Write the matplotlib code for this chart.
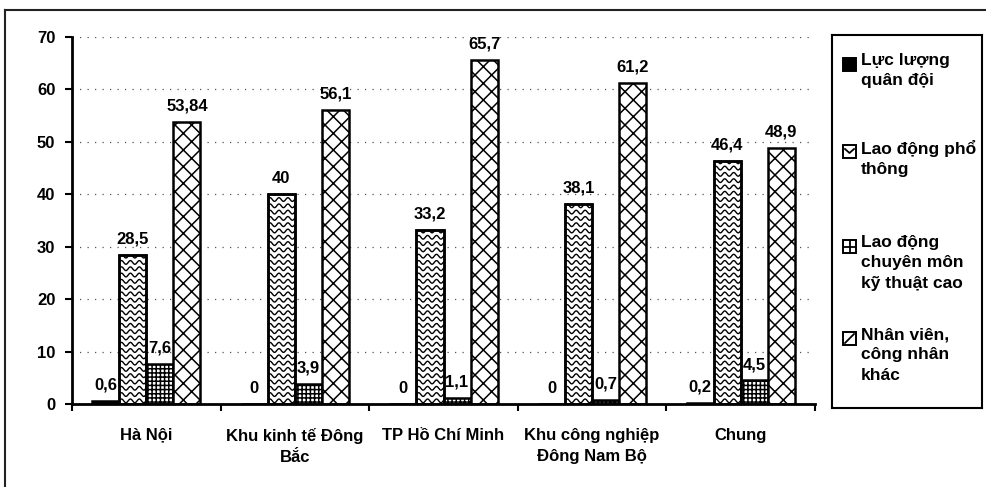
import numpy as np
import matplotlib
matplotlib.use("Agg")
import matplotlib.pyplot as plt
from matplotlib.patches import Rectangle
from matplotlib.lines import Line2D

categories = ["Hà Nội", "Khu kinh tế Đông\nBắc", "TP Hồ Chí Minh",
              "Khu công nghiệp\nĐông Nam Bộ", "Chung"]
series_names = ["Lực lượng\nquân đội", "Lao động phổ\nthông",
                "Lao động\nchuyên môn\nkỹ thuật cao", "Nhân viên,\ncông nhân\nkhác"]
quan_doi = [0.6, 0, 0, 0, 0.2]
pho_thong = [28.5, 40, 33.2, 38.1, 46.4]
chuyen_mon = [7.6, 3.9, 1.1, 0.7, 4.5]
nhan_vien = [53.84, 56.1, 65.7, 61.2, 48.9]
y_ticks = [0, 10, 20, 30, 40, 50, 60, 70]

plt.rcParams["font.family"] = ["Liberation Sans Narrow", "Liberation Sans", "DejaVu Sans"]
plt.rcParams["font.weight"] = "bold"
plt.rcParams["font.size"] = 12
plt.rcParams["hatch.linewidth"] = 1.1

W, H = 986, 487
fig = plt.figure(figsize=(W / 100, H / 100), dpi=100)
ax = fig.add_axes([72 / W, 1 - 404 / H, (815 - 72) / W, (404 - 37) / H])


def add_waves(ax, bar, period=0.06, amp=0.35, gap=1.2):
    # wavy texture clipped to the bar
    x0, w, h = bar.get_x(), bar.get_width(), bar.get_height()
    xs = np.linspace(x0, x0 + w, 80)
    for yb in np.arange(gap / 2, h + gap, gap):
        ys = yb + amp * np.sin(2 * np.pi * (xs - x0) / period)
        line, = ax.plot(xs, ys, color="black", lw=1.0, zorder=2.5)
        line.set_clip_path(bar)


x = np.arange(len(categories))
bw = 0.182
series = [quan_doi, pho_thong, chuyen_mon, nhan_vien]
fills = ["black", "white", "white", "white"]
hatches = [None, None, "++++", "xx"]

for i, vals in enumerate(series):
    xi = x + (i - 1.5) * bw
    bars = ax.bar(xi, vals, bw, color=fills[i], edgecolor="black",
                  linewidth=1.8, hatch=hatches[i], zorder=2)
    if i == 1:
        for b in bars:
            add_waves(ax, b)
        ax.bar(xi, vals, bw, fill=False, edgecolor="black", linewidth=1.8, zorder=3)
    for xv, v in zip(xi, vals):
        ax.annotate(f"{v:g}".replace(".", ","), (xv, v), xytext=(0, 6),
                    textcoords="offset points", ha="center", va="bottom",
                    fontweight="bold", zorder=4)

ax.set_xlim(-0.5, len(categories) - 0.5)
ax.set_ylim(0, 70)
ax.set_yticks(y_ticks)
ax.set_xticks(np.arange(-0.5, len(categories), 1.0))
ax.set_xticklabels([])
ax.set_xticks(x, minor=True)
ax.set_xticklabels(categories, minor=True, linespacing=1.55)
ax.tick_params(axis="x", which="minor", length=0, pad=17)
ax.tick_params(axis="x", which="major", length=5, width=1.5, direction="out")
ax.tick_params(axis="y", length=5, width=1.5, pad=7)

ax.set_axisbelow(True)
ax.yaxis.grid(True, color="#555555", linestyle=(0, (1, 5)), linewidth=0.9)
for s in ["top", "right"]:
    ax.spines[s].set_visible(False)
ax.spines["left"].set_linewidth(2)
ax.spines["bottom"].set_linewidth(2)

# legend box
lax = fig.add_axes([832 / W, 1 - 408 / H, 150 / W, 373 / H])
lax.set_xlim(0, 150)
lax.set_ylim(373, 0)
lax.set_xticks([])
lax.set_yticks([])
for s in lax.spines.values():
    s.set_linewidth(1.5)
entry_tops = [18, 105, 200, 292]
for i, name in enumerate(series_names):
    y0 = entry_tops[i]
    kx, ky, ks = 11, y0 + 5, 13
    lax.add_patch(Rectangle((kx, ky), ks, ks, facecolor=fills[i], edgecolor="black",
                            linewidth=1.4))
    if i == 1:
        lax.plot([kx + 2, kx + ks / 2, kx + ks - 2], [ky + 4, ky + 8, ky + 4],
                 color="black", lw=1.3)
    elif i == 2:
        lax.plot([kx + ks / 2] * 2, [ky, ky + ks], color="black", lw=1.3)
        lax.plot([kx, kx + ks], [ky + ks / 2] * 2, color="black", lw=1.3)
    elif i == 3:
        lax.plot([kx + 2, kx + ks - 2], [ky + ks - 2, ky + 2], color="black", lw=1.3)
    lax.text(29, y0, name, ha="left", va="top", fontweight="bold",
             fontsize=12.5, linespacing=1.45)

# outer frame of the scanned figure
fig.add_artist(Line2D([5 / W, 5 / W], [0, 1 - 10 / H], color="#222222", lw=1.5))
fig.add_artist(Line2D([5 / W, 1], [1 - 10 / H, 1 - 10 / H], color="#222222", lw=1.5))

fig.savefig("out.png", dpi=100)
